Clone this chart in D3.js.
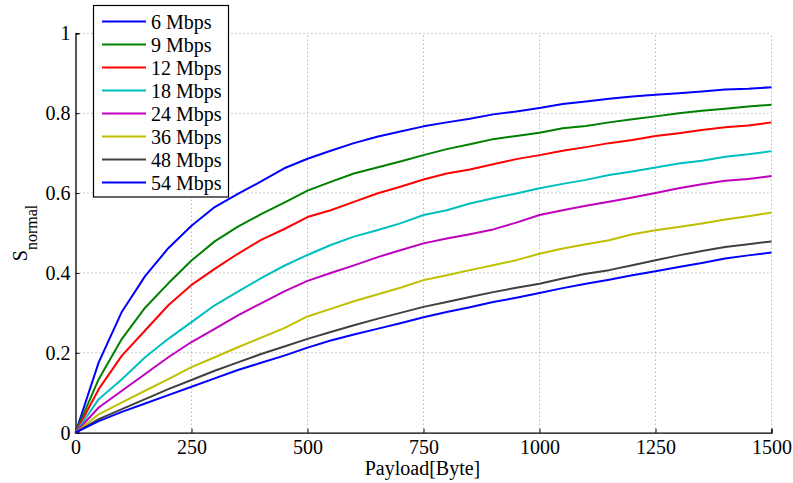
<!DOCTYPE html>
<html><head><meta charset="utf-8">
<script src="https://cdn.jsdelivr.net/npm/d3@7"></script>
<style>body{margin:0;background:#fff}svg{display:block}text{font-family:'Liberation Serif','Times New Roman',serif}</style>
</head><body>
<script>
const payload = d3.range(0, 1501, 50);
const seriesNames = ["6 Mbps","9 Mbps","12 Mbps","18 Mbps","24 Mbps","36 Mbps","48 Mbps","54 Mbps"];
const s6  = [0,0.176,0.303,0.392,0.462,0.518,0.565,0.598,0.629,0.662,0.686,0.706,0.725,0.741,0.754,0.767,0.777,0.786,0.797,0.804,0.813,0.823,0.829,0.836,0.842,0.846,0.85,0.854,0.859,0.861,0.865];
const s9  = [0,0.134,0.235,0.313,0.374,0.431,0.479,0.516,0.547,0.576,0.606,0.628,0.649,0.664,0.679,0.695,0.71,0.722,0.735,0.743,0.751,0.762,0.768,0.777,0.785,0.792,0.8,0.806,0.811,0.817,0.821];
const s12 = [0,0.109,0.193,0.256,0.319,0.37,0.41,0.448,0.483,0.51,0.54,0.557,0.578,0.599,0.616,0.634,0.649,0.659,0.672,0.685,0.695,0.706,0.715,0.725,0.733,0.743,0.75,0.758,0.765,0.769,0.777];
const s18 = [0,0.084,0.134,0.189,0.235,0.277,0.319,0.353,0.387,0.418,0.445,0.47,0.491,0.507,0.524,0.545,0.557,0.574,0.587,0.599,0.612,0.623,0.633,0.645,0.654,0.664,0.674,0.681,0.691,0.697,0.705];
const s24 = [0,0.063,0.105,0.147,0.189,0.227,0.26,0.294,0.324,0.354,0.38,0.4,0.419,0.439,0.457,0.474,0.486,0.497,0.509,0.526,0.545,0.557,0.568,0.578,0.589,0.6,0.612,0.622,0.631,0.635,0.643];
const s36 = [0,0.046,0.076,0.105,0.134,0.164,0.189,0.214,0.238,0.262,0.291,0.31,0.329,0.346,0.363,0.382,0.394,0.407,0.419,0.432,0.448,0.461,0.472,0.482,0.497,0.507,0.515,0.524,0.534,0.542,0.551];
const s48 = [0,0.034,0.059,0.084,0.109,0.132,0.155,0.176,0.197,0.216,0.235,0.252,0.269,0.285,0.3,0.315,0.327,0.34,0.352,0.363,0.373,0.386,0.398,0.407,0.419,0.432,0.444,0.455,0.465,0.472,0.479];
const s54 = [0,0.029,0.052,0.073,0.094,0.115,0.136,0.157,0.175,0.193,0.213,0.231,0.246,0.26,0.274,0.289,0.302,0.314,0.327,0.338,0.35,0.362,0.373,0.383,0.394,0.404,0.415,0.425,0.436,0.444,0.451];
const xTicks = [0,250,500,750,1000,1250,1500];
const yTicks = [0,0.2,0.4,0.6,0.8,1];
const colors = ["#0000ff","#008000","#ff0000","#00bfbf","#bf00bf","#bfbf00","#404040","#0000ff"];
const allSeries = [s6,s9,s12,s18,s24,s36,s48,s54];

const W = 793, H = 483;
const m = {left:75.5, right:W-771.5, top:33.3, bottom:H-432.7};
const svg = d3.select("body").append("svg").attr("width",W).attr("height",H);
const x = d3.scaleLinear().domain([0,1500]).range([m.left, W-m.right]);
const y = d3.scaleLinear().domain([0,1]).range([H-m.bottom, m.top]);
const font = "'Liberation Serif', 'Times New Roman', serif";

// grid
const g = svg.append("g");
g.selectAll("line.gx").data(xTicks.slice(1)).join("line")
  .attr("x1",d=>x(d)).attr("x2",d=>x(d)).attr("y1",y(0)).attr("y2",y(1))
  .attr("stroke","#999").attr("stroke-width",1).attr("stroke-dasharray","1,3");
g.selectAll("line.gy").data(yTicks.slice(1)).join("line")
  .attr("y1",d=>y(d)).attr("y2",d=>y(d)).attr("x1",x(0)).attr("x2",x(1500))
  .attr("stroke","#999").attr("stroke-width",1).attr("stroke-dasharray","1,3");

// axes
const xAxis = d3.axisBottom(x).tickValues(xTicks).tickSize(-4).tickPadding(7).tickFormat(d3.format("d"));
const yAxis = d3.axisLeft(y).tickValues(yTicks).tickSize(-4).tickPadding(5).tickFormat(d=>d===0?"0":d===1?"1":d3.format(".1f")(d));
const gx = svg.append("g").attr("transform",`translate(0,${y(0)})`).call(xAxis);
const gy = svg.append("g").attr("transform",`translate(${x(0)},0)`).call(yAxis);
[gx,gy].forEach(a=>{
  a.attr("font-family",null);
  a.select(".domain").attr("stroke","#000").attr("stroke-width",1.3);
  a.selectAll(".tick line").attr("stroke","#000");
  a.selectAll("text").style("font-family",font).attr("font-size",20).attr("fill","#000");
});
gy.selectAll(".tick text").attr("dy","0.33em");
gx.selectAll(".tick text").attr("dy","0.71em");

// lines
const line = d3.line().x((d,i)=>x(payload[i])).y(d=>y(d));
svg.append("g").selectAll("path").data(allSeries).join("path")
  .attr("d",line).attr("fill","none")
  .attr("stroke",(d,i)=>colors[i]).attr("stroke-width",2).attr("stroke-linejoin","round");

// axis labels
svg.append("text").attr("x",(x(0)+x(1500))/2 - 1).attr("y",475).attr("text-anchor","middle")
  .style("font-family",font).attr("font-size",20).text("Payload[Byte]");
const yl = svg.append("text").attr("transform",`translate(27,${(y(0)+y(1))/2}) rotate(-90)`)
  .attr("text-anchor","middle").style("font-family",font).attr("font-size",20);
yl.append("tspan").text("S");
yl.append("tspan").attr("font-size",16).attr("dy",10).text("normal");

// legend
const lg = svg.append("g");
lg.append("rect").attr("x",93.5).attr("y",5.5).attr("width",135).attr("height",191.5)
  .attr("fill","#fff").attr("stroke","#000").attr("stroke-width",1.2);
const rowY = d3.scaleLinear().domain([0,7]).range([21.5,182.5]);
const items = lg.selectAll("g").data(seriesNames).join("g")
  .attr("transform",(d,i)=>`translate(0,${rowY(i)})`);
items.append("line").attr("x1",102).attr("x2",146).attr("stroke",(d,i)=>colors[i]).attr("stroke-width",2);
items.append("text").attr("x",151).attr("dy","0.35em").style("font-family",font).attr("font-size",20).text(d=>d);
</script>
</body></html>
